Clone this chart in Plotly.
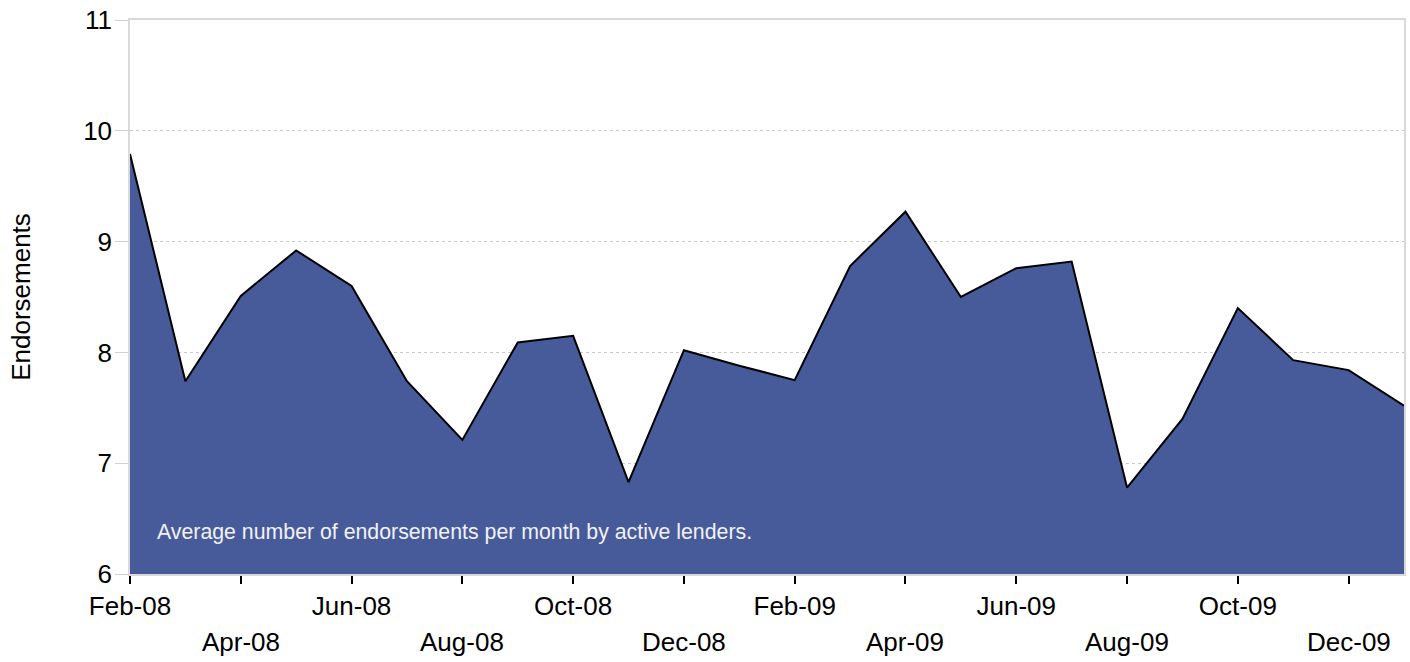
import plotly.graph_objects as go

months = ["Feb-08", "Mar-08", "Apr-08", "May-08", "Jun-08", "Jul-08", "Aug-08", "Sep-08",
          "Oct-08", "Nov-08", "Dec-08", "Jan-09", "Feb-09", "Mar-09", "Apr-09", "May-09",
          "Jun-09", "Jul-09", "Aug-09", "Sep-09", "Oct-09", "Nov-09", "Dec-09", "Jan-10"]
endorsements = [9.79, 7.74, 8.51, 8.92, 8.60, 7.74, 7.21, 8.09, 8.15, 6.83, 8.02, 7.88,
                7.75, 8.78, 9.27, 8.50, 8.76, 8.82, 6.78, 7.40, 8.40, 7.93, 7.84, 7.52]
y_ticks = [6, 7, 8, 9, 10, 11]
note = "Average number of endorsements per month by active lenders."

tick_months = months[0:-1:2]          # Feb-08, Apr-08, ... Dec-09
upper_labels = tick_months[0::2]      # Feb, Jun, Oct ...
lower_labels = tick_months[1::2]      # Apr, Aug, Dec ...

FONT = "Liberation Sans, Arial, sans-serif"
FS = 26

fig = go.Figure()
fig.add_trace(go.Scatter(
    x=months, y=endorsements, mode="lines",
    line=dict(color="#000000", width=2),
    fill="tozeroy", fillcolor="#475B9B",
    hoverinfo="x+y", showlegend=False,
))

annotations = []
for m in lower_labels:
    annotations.append(dict(
        x=m, xref="x", y=0, yref="paper", text=m, showarrow=False,
        xanchor="center", yanchor="middle", yshift=-68,
        font=dict(family=FONT, size=FS, color="#000000"),
    ))
annotations.append(dict(
    x=0.0196, xref="paper", y=0.076, yref="paper", text=note, showarrow=False,
    xanchor="left", yanchor="middle",
    font=dict(family=FONT, size=21.3, color="#F2F2F2"),
))

fig.update_layout(
    width=1410, height=662,
    margin=dict(l=130, r=6, t=20, b=88),
    paper_bgcolor="white", plot_bgcolor="white",
    font=dict(family=FONT, size=FS, color="#000000"),
    annotations=annotations,
    xaxis=dict(
        type="category", categoryorder="array", categoryarray=months,
        range=[0, len(months) - 1], automargin=False,
        tickmode="array", tickvals=tick_months,
        ticktext=[m if m in upper_labels else "" for m in tick_months],
        ticks="outside", ticklen=8, tickwidth=1.5, tickcolor="#000000",
        showgrid=False, zeroline=False,
        showline=True, linecolor="#D9D9D9", linewidth=1.5, mirror=True,
        tickfont=dict(family=FONT, size=FS, color="#000000"),
    ),
    yaxis=dict(
        range=[6, 11], tickmode="array", tickvals=y_ticks, automargin=False,
        ticks="outside", ticklen=13, tickwidth=1, tickcolor="#D0D0D0",
        ticklabelstandoff=-2,
        showgrid=True, gridcolor="#C8C8C8", griddash="dot", gridwidth=1,
        zeroline=False,
        showline=True, linecolor="#D9D9D9", linewidth=1.5, mirror=True,
        tickfont=dict(family=FONT, size=FS, color="#000000"),
        title=dict(text="Endorsements", standoff=45,
                   font=dict(family=FONT, size=FS, color="#000000")),
    ),
)

fig.write_html("out.html",
               config={"displayModeBar": False},
               post_script="document.body.style.margin='0';document.body.style.overflow='hidden';")
